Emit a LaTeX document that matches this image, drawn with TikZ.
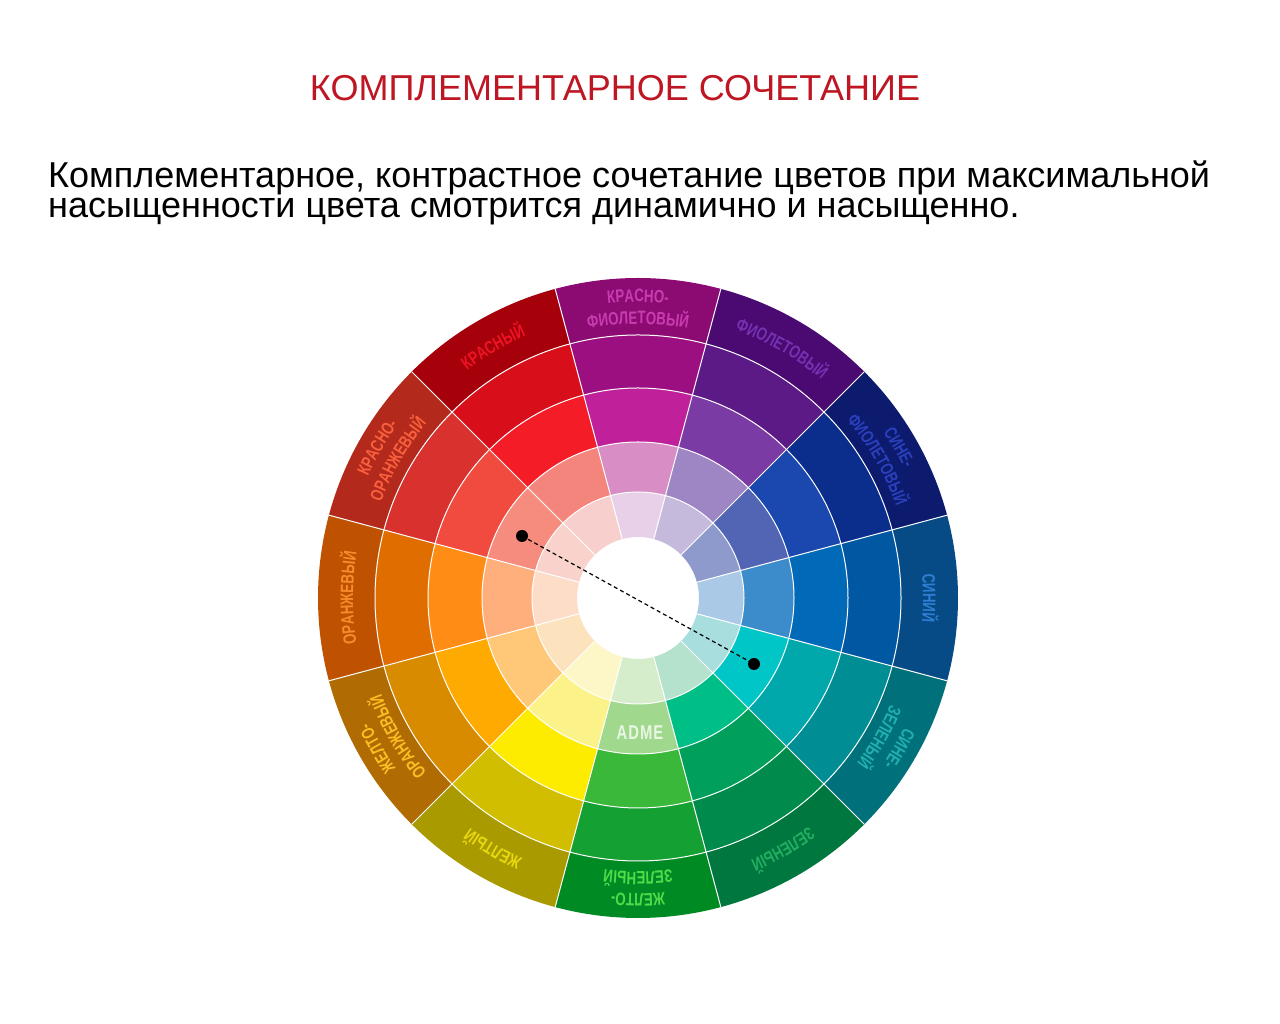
\documentclass[tikz,border=0pt]{standalone}
\usepackage{fontspec}
\setmainfont{Liberation Sans}
\newfontfamily\labfont[FakeStretch=0.74]{Liberation Sans}
\usetikzlibrary{decorations.text}
\definecolor{titlered}{HTML}{BE1622}
\definecolor{admetext}{HTML}{EAF6E4}
\tikzset{
  titletext/.style={anchor=base, text=titlered, font=\fontsize{36}{36}\selectfont, inner sep=0pt},
  bodytext/.style={anchor=base west, text=black, font=\fontsize{36}{36}\selectfont, inner sep=0pt},
  dot/.style={circle, fill=black, minimum size=12pt, inner sep=0pt},
  sepline/.style={white, line width=1pt},
  linkline/.style={black, line width=1.2pt, dash pattern=on 4pt off 3pt}
}
\newcommand{\doLabel}[4]{%
  \path[decorate, decoration={text along path, text={|\labfont\bfseries\fontsize{18}{18}\selectfont\color{#3}|#4}, text align=center}]
    (#2+15:#1) arc[start angle=#2+15, end angle=#2-15, radius=#1];}
\begin{document}
\begin{tikzpicture}[x=1pt,y=1pt]
\useasboundingbox (0,0) rectangle (1280,1024);
\fill[white] (0,0) rectangle (1280,1024);

\node[titletext] (title) at (615,923) {КОМПЛЕМЕНТАРНОЕ СОЧЕТАНИЕ};
\node[bodytext] (line1) at (48,836) {Комплементарное, контрастное сочетание цветов при максимальной};
\node[bodytext] (line2) at (48,806) {насыщенности цвета смотрится динамично и насыщенно.};

\begin{scope}[shift={(638,426)}]
\foreach \k/\ca/\cb/\cc/\cd/\ce in {
  0/8B0B72/9C0F80/C0219A/D88EC4/E8D0E8,
  1/4A0A72/5B1A86/7A3BA5/9E86C4/C6BADC,
  2/0C1B6E/0B2E8C/1A48AE/5264B4/8E9ACC,
  3/074B86/0058A3/0069B8/3C8BCB/A9C9E6,
  4/00717A/008D94/00A7AB/00C6C7/A8DEDE,
  5/00773F/008A4C/00A05C/00BF86/B4E2CC,
  6/008A24/14A033/39B839/A0D88E/D6EDCB,
  7/A99A00/D2BE00/FDEB00/FBF38A/FDF7C8,
  8/B06B02/D98B00/FFAA00/FFC878/FDE3BD,
  9/BE5200/DF6D00/FF8C14/FFAF7C/FDDCC8,
  10/B3291B/D9312E/F14A3F/F58C7E/F9D2CC,
  11/A6000B/D80F1A/F41C27/F4857C/F7CFCD}{
  \pgfmathsetmacro\a{90-30*\k}
  \definecolor{rA}{HTML}{\ca}
  \definecolor{rB}{HTML}{\cb}
  \definecolor{rC}{HTML}{\cc}
  \definecolor{rD}{HTML}{\cd}
  \definecolor{rE}{HTML}{\ce}
  \foreach \ri/\ro/\col in {61/106/rE, 106/156/rD, 156/210/rC, 210/263/rB, 263/320/rA}{
    \fill[\col] (\a+15:\ro) arc[start angle=\a+15, end angle=\a-15, radius=\ro]
      -- (\a-15:\ri) arc[start angle=\a-15, end angle=\a+15, radius=\ri] -- cycle;
  }
}
\foreach \r in {106,156,210,263}{
  \draw[sepline] (0,0) circle[radius=\r];
}
\foreach \k in {0,...,11}{
  \draw[sepline] (15+30*\k:61) -- (15+30*\k:320);
}

\definecolor{lab0}{HTML}{C83CB0}
\definecolor{lab1}{HTML}{7332B0}
\definecolor{lab2}{HTML}{2A40BC}
\definecolor{lab3}{HTML}{2E7ED2}
\definecolor{lab4}{HTML}{22B0AE}
\definecolor{lab5}{HTML}{24AE62}
\definecolor{lab6}{HTML}{50DC4A}
\definecolor{lab7}{HTML}{E8D810}
\definecolor{lab8}{HTML}{FCBE22}
\definecolor{lab9}{HTML}{F88C2C}
\definecolor{lab10}{HTML}{F8603E}
\definecolor{lab11}{HTML}{EE1424}

\doLabel{296}{90}{lab0}{КРАСНО-}
\doLabel{274}{90}{lab0}{ФИОЛЕТОВЫЙ}
\doLabel{285}{60}{lab1}{ФИОЛЕТОВЫЙ}
\doLabel{296}{30}{lab2}{СИНЕ-}
\doLabel{274}{30}{lab2}{ФИОЛЕТОВЫЙ}
\doLabel{285}{0}{lab3}{СИНИЙ}
\doLabel{296}{-30}{lab4}{СИНЕ-}
\doLabel{274}{-30}{lab4}{ЗЕЛЕНЫЙ}
\doLabel{285}{-60}{lab5}{ЗЕЛЕНЫЙ}
\doLabel{296}{-90}{lab6}{ЖЕЛТО-}
\doLabel{274}{-90}{lab6}{ЗЕЛЕНЫЙ}
\doLabel{285}{-120}{lab7}{ЖЕЛТЫЙ}
\doLabel{296}{-150}{lab8}{ЖЕЛТО-}
\doLabel{274}{-150}{lab8}{ОРАНЖЕВЫЙ}
\doLabel{285}{180}{lab9}{ОРАНЖЕВЫЙ}
\doLabel{296}{150}{lab10}{КРАСНО-}
\doLabel{274}{150}{lab10}{ОРАНЖЕВЫЙ}
\doLabel{285}{120}{lab11}{КРАСНЫЙ}

\node[text=admetext, font=\labfont\bfseries\fontsize{20}{20}\selectfont, inner sep=0pt] (adme) at (2,-135) {A\kern1pt D\kern1pt M\kern1pt E};
\end{scope}

\node[dot] (p1) at (522,488) {};
\node[dot] (p2) at (754,360) {};
\draw[linkline] (p1.center) -- (p2.center);
\end{tikzpicture}
\end{document}
